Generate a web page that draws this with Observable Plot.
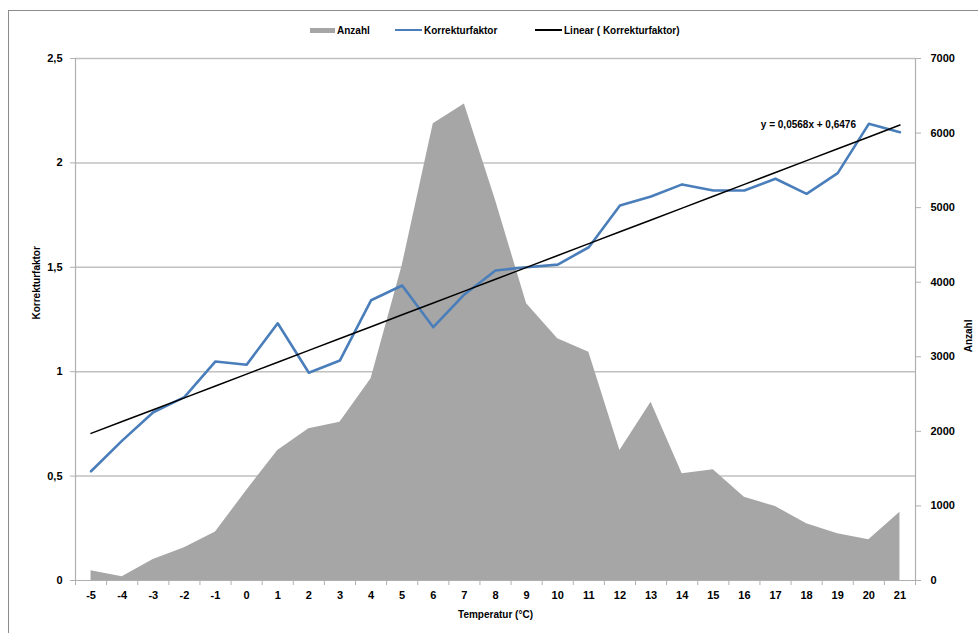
<!DOCTYPE html>
<html>
<head>
<meta charset="utf-8">
<script src="https://cdn.jsdelivr.net/npm/d3@7"></script>
<script src="https://cdn.jsdelivr.net/npm/@observablehq/plot@0.6"></script>
<style>
  html, body { margin: 0; padding: 0; background: #fff; }
  #wrap { position: relative; width: 978px; height: 633px; overflow: hidden; font-family: "Liberation Sans", Arial, sans-serif; }
  #frame { position: absolute; left: 8px; top: 10px; right: -2px; bottom: -2px; border-left: 1px solid #8c8c8c; border-top: 1px solid #8c8c8c; }
  #legend { position: relative; height: 44px; }
  .item { position: absolute; top: 24px; height: 12px; display: flex; align-items: center; font-size: 10px; font-weight: bold; color: #000; white-space: nowrap; }
  .sw { display: inline-block; margin-right: 2px; }
  #chart { position: absolute; left: 0; top: 44px; }
</style>
</head>
<body>
<div id="wrap">
  <div id="frame"></div>
  <div id="legend"></div>
  <div id="chart"></div>
</div>
<script>
// ---- data ----
const temps = [-5,-4,-3,-2,-1,0,1,2,3,4,5,6,7,8,9,10,11,12,13,14,15,16,17,18,19,20,21];
const anzahl = [130,50,280,440,650,1207,1743,2034,2123,2705,4220,6125,6390,5100,3710,3241,3062,1743,2391,1431,1484,1117,992,760,626,546,916];
const korrektur = [0.523,0.67,0.806,0.878,1.049,1.033,1.232,0.995,1.054,1.342,1.413,1.213,1.37,1.485,1.50,1.513,1.596,1.796,1.839,1.897,1.868,1.868,1.924,1.852,1.951,2.187,2.147];
const trendSlope = 0.0568;
const trendIntercept = 0.6476;
const leftTicks = [0,0.5,1,1.5,2,2.5];
const rightTicks = [0,1000,2000,3000,4000,5000,6000,7000];
const rightMax = 7000, leftMax = 2.5;
const seriesNames = ["Anzahl", "Korrekturfaktor", "Linear ( Korrekturfaktor)"];
const equation = "y = 0,0568x + 0,6476";

// ---- derived tables ----
const rows = temps.map((t, i) => ({
  t,
  n: anzahl[i],
  nScaled: anzahl[i] * leftMax / rightMax,
  k: korrektur[i],
  trend: trendSlope * (i + 1) + trendIntercept
}));
const bounds = d3.range(temps.length + 1).map(i => temps[0] - 0.5 + i);
const comma = d => String(d).replace(".", ",");

const axisFont = {fontWeight: "bold", fontSize: 11, fill: "#000"};

const chart = Plot.plot({
  width: 978,
  height: 589,
  marginTop: 14,
  marginBottom: 53,
  marginLeft: 75,
  marginRight: 63,
  style: {fontFamily: "Liberation Sans, Arial, sans-serif", fontSize: "11px", background: "transparent", overflow: "visible"},
  x: {type: "linear", domain: [temps[0] - 0.5, temps[temps.length - 1] + 0.5], axis: null},
  y: {domain: [0, leftMax], axis: null},
  marks: [
    Plot.ruleY(leftTicks.filter(d => d > 0), {stroke: "#c0c0c0", strokeWidth: 1.5}),
    Plot.areaY(rows, {x: "t", y: "nScaled", fill: "#a6a6a6"}),
    Plot.ruleY([0], {stroke: "#b0b0b0", strokeWidth: 1.2}),
    Plot.ruleX([bounds[0], bounds[bounds.length - 1]], {y1: 0, y2: leftMax, stroke: "#b0b0b0", strokeWidth: 1.2}),
    Plot.lineY(rows, {x: "t", y: "k", stroke: "#4a7ebb", strokeWidth: 2.6}),
    Plot.lineY(rows, {x: "t", y: "trend", stroke: "#000", strokeWidth: 1.5}),
    // left axis
    Plot.axisY({ticks: leftTicks, tickFormat: comma, tickSize: 5, tickPadding: 8, stroke: "#b0b0b0", ...axisFont, label: null}),
    // right axis (Anzahl)
    Plot.axisY(rightTicks.map(v => v * leftMax / rightMax), {anchor: "right", tickFormat: d => String(Math.round(d * rightMax / leftMax)), tickSize: 5, tickPadding: 10, stroke: "#b0b0b0", ...axisFont, label: null}),
    // x labels
    Plot.axisX({ticks: temps, tickFormat: d => String(d), tickSize: 0, tickPadding: 11, ...axisFont, label: null}),
    // x tick marks at category boundaries
    Plot.axisX({ticks: bounds, tickSize: 5, tickFormat: () => "", stroke: "#b0b0b0", label: null}),
    // axis titles
    Plot.text(["Korrekturfaktor"], {frameAnchor: "left", rotate: -90, dx: -39, fontWeight: "bold", fontSize: 10}),
    Plot.text(["Anzahl"], {frameAnchor: "right", rotate: -90, dx: 53, fontWeight: "bold", fontSize: 10}),
    Plot.text(["Temperatur (°C)"], {frameAnchor: "bottom", dy: 37, fontWeight: "bold", fontSize: 10}),
    // equation
    Plot.text([rows[rows.length - 1]], {x: "t", y: "trend", text: () => equation, textAnchor: "end", dx: -44, dy: 0, fontWeight: "bold", fontSize: 10, letterSpacing: -0.5})
  ]
});
document.getElementById("chart").appendChild(chart);

// ---- legend ----
const legend = document.getElementById("legend");
const legendItems = [
  {name: seriesNames[0], left: 310, swatch: "background:#a6a6a6;width:25px;height:5px;"},
  {name: seriesNames[1], left: 395, swatch: "background:#4a7ebb;width:27px;height:2px;"},
  {name: seriesNames[2], left: 535, swatch: "background:#000;width:27px;height:1.5px;"}
];
legendItems.forEach(it => {
  const d = document.createElement("div");
  d.className = "item";
  d.style.left = it.left + "px";
  d.innerHTML = `<span class="sw" style="${it.swatch}"></span><span>${it.name}</span>`;
  legend.appendChild(d);
});
</script>
</body>
</html>
